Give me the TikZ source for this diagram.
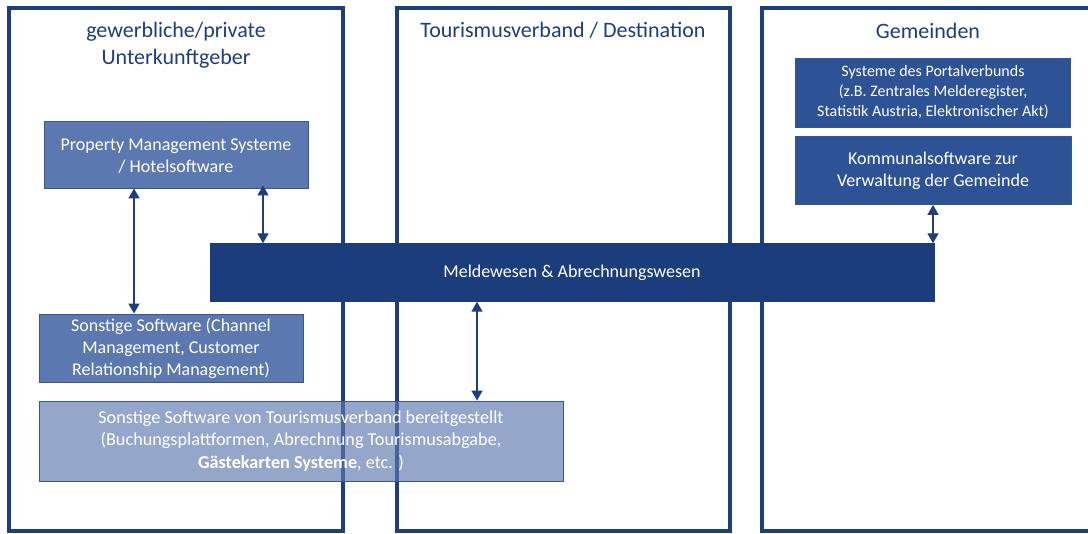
\documentclass[tikz,border=0pt]{standalone}
\usepackage{fontspec}
\setmainfont{Carlito}
\usetikzlibrary{arrows.meta}
\definecolor{frameblue}{RGB}{31,62,124}
\definecolor{darkbox}{RGB}{27,61,124}
\definecolor{midbox}{RGB}{91,120,176}
\definecolor{gembox}{RGB}{46,82,150}
\definecolor{boxedge}{RGB}{55,85,145}
\tikzset{
  column/.style={draw=frameblue,line width=3.5pt},
  coltitle/.style={text=frameblue,align=center,font=\fontsize{22}{27}\selectfont},
  swbox/.style={draw=boxedge,line width=0.8pt,text=white,align=center},
  link/.style={draw=frameblue,line width=1.4pt,{Triangle[length=10pt,width=11pt]}-{Triangle[length=10pt,width=11pt]}},
}
\begin{document}
\begin{tikzpicture}[x=1pt,y=-1pt]
\useasboundingbox (0,0) rectangle (1088,534);
\fill[white] (0,0) rectangle (1088,534);
% columns
\draw[column] (9,8) rectangle (343,531);
\draw[column] (397,8) rectangle (730,531);
\draw[column] (762,8) rectangle (1100,531);
\node[coltitle] (t1) at (176,45) {gewerbliche/private\\Unterkunftgeber};
\node[coltitle] (t2) at (563,30.5) {Tourismusverband / Destination};
\node[coltitle] (t3) at (928,30.5) {Gemeinden};
% boxes
\node[swbox,fill=midbox,minimum width=264pt,minimum height=67pt,font=\fontsize{18}{22}\selectfont] (pms) at (176,154.5) {\strut Property Management Systeme\\/ Hotelsoftware};
\node[swbox,fill=midbox,minimum width=264pt,minimum height=68pt,font=\fontsize{18}{22}\selectfont] (chan) at (171,348) {Sonstige Software (Channel\\Management, Customer\\Relationship Management)};
\node[swbox,fill=midbox,fill opacity=0.65,text opacity=1,minimum width=524pt,minimum height=80pt,font=\fontsize{18.2}{22.5}\selectfont] (tv) at (301,441) {Sonstige Software von Tourismusverband bereitgestellt\\(Buchungsplattformen, Abrechnung Tourismusabgabe,\\\textbf{Gästekarten Systeme}, etc. )};
\node[draw=darkbox,fill=darkbox,text=white,minimum width=724pt,minimum height=58pt,font=\fontsize{18}{22}\selectfont] (mw) at (572,272.5) {Meldewesen \& Abrechnungswesen};
\node[swbox,fill=gembox,minimum width=275pt,minimum height=69pt,font=\fontsize{16}{20}\selectfont] (portal) at (933,92.5) {Systeme des Portalverbunds\\(z.B. Zentrales Melderegister,\\Statistik Austria, Elektronischer Akt)};
\node[swbox,fill=gembox,minimum width=276pt,minimum height=68pt,font=\fontsize{18}{22}\selectfont] (komm) at (933,170.5) {Kommunalsoftware zur\\Verwaltung der Gemeinde};
% arrows
\coordinate (x1) at (134,0);
\coordinate (x2) at (263,0);
\coordinate (x3) at (477,0);
\coordinate (x4) at (933,0);
\draw[link] (pms.south -| x1) -- (chan.north -| x1);
\draw[link] ([yshift=3pt]pms.south -| x2) -- (mw.north -| x2);
\draw[link] (mw.south -| x3) -- (tv.north -| x3);
\draw[link] (komm.south -| x4) -- (mw.north -| x4);
\end{tikzpicture}
\end{document}
